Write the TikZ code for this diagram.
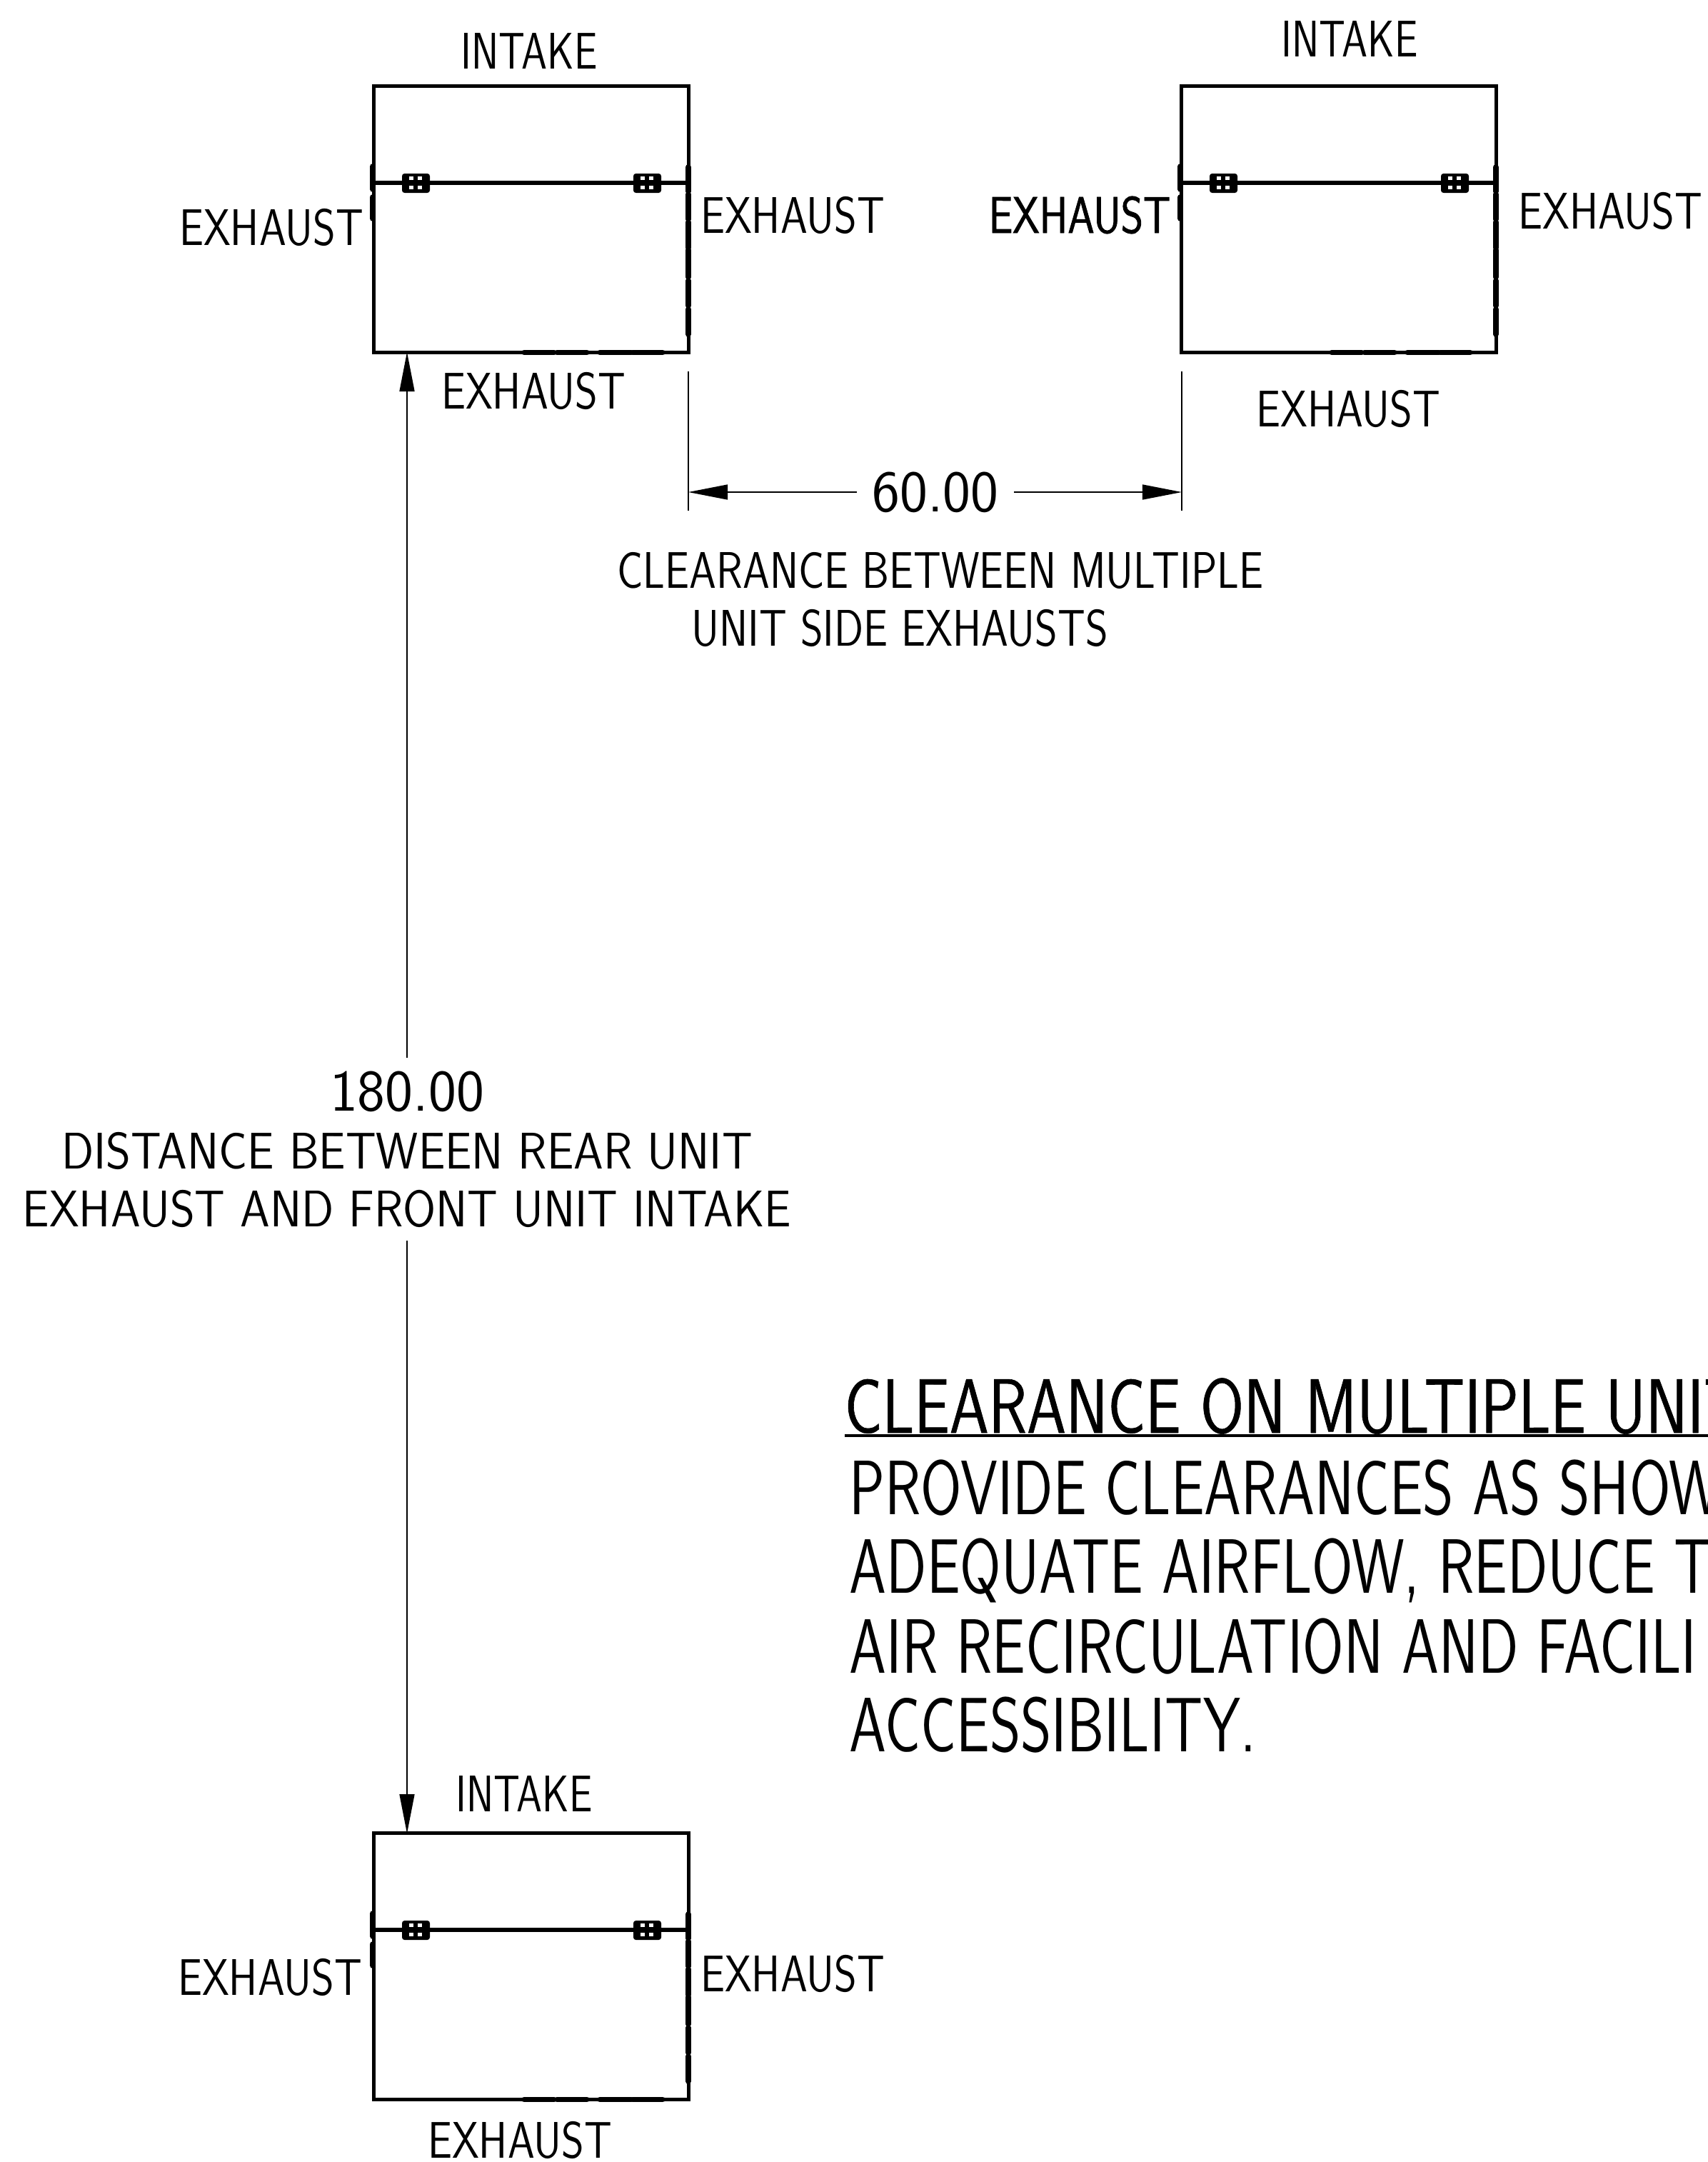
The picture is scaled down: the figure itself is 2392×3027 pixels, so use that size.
\documentclass[tikz,border=0pt]{standalone}
\usepackage{fontspec}
\usepackage{tikz}
\usetikzlibrary{arrows.meta}
\newfontfamily\cadfont[FakeStretch=0.84]{Latin Modern Sans}
\newfontfamily\cadnarrow[FakeStretch=0.8]{Latin Modern Sans}
\newfontfamily\cadheavy[FakeStretch=0.83,FakeBold=1.2]{Latin Modern Sans}
\newfontfamily\cadwide[FakeStretch=0.925]{Latin Modern Sans}
\newfontfamily\cadnum[FakeStretch=1.0]{Latin Modern Sans}
\newfontfamily\cadnote[FakeStretch=0.77]{Latin Modern Sans}
\newfontfamily\cadhead[FakeStretch=0.815,FakeBold=0.6]{Latin Modern Sans}
\begin{document}
\begin{tikzpicture}[x=0.01cm,y=-0.01cm,
  unitbox/.style={draw=black,line width=1.4pt,minimum width=4.4cm,minimum height=3.72cm,inner sep=0pt},
  vent/.style={line width=2.2pt,line cap=round},
  dim/.style={line width=0.45pt,-{Triangle[length=5.5mm,width=2.1mm]}},
  extline/.style={line width=0.45pt},
  lab/.style={inner sep=0pt,font=\cadfont\fontsize{20.5}{20.5}\selectfont},
  labin/.style={lab,font=\cadnarrow\fontsize{20.5}{20.5}\selectfont},
  labheavy/.style={lab,font=\cadheavy\fontsize{20.5}{20.5}\selectfont},
  big/.style={inner sep=0pt,anchor=base west,font=\cadnote\fontsize{30.7}{30.7}\selectfont}]
\useasboundingbox (0,0) rectangle (2392,3027);
\clip (0,0) rectangle (2392,3027);
% the three units
\foreach \n/\ux/\uy in {A/524/121,B/1655/121,C/524/2567}{
  \begin{scope}[shift={(\ux,\uy)}]
    \node[unitbox] (unit\n) at (220,186) {};
    \draw[line width=1.5pt] (0,135) -- (440,135);
    \draw[line width=1.9pt] (0,135) -- (15,135) (425,135) -- (440,135);
    \foreach \ya/\yb in {112/144,155/185}
      \draw[vent] (-2,\ya) -- (-2,\yb);
    \foreach \ya/\yb in {113/147,151/186,190/226,229/267,272/307,312/347}
      \draw[vent] (3,\ya) ++(437,0) -- ++(0,\yb-\ya);
    \foreach \xa/\xb in {210/252,256/298,316/360,362/404}
      \draw[vent] (\xa,372.5) -- (\xb,372.5);
    \foreach \bx in {39,363}{
      \fill[black,rounded corners=1pt] (\bx,122) rectangle ++(39,27);
      \foreach \mx in {13,25}
        \foreach \my in {128,141}
          \fill[white] (\bx+\mx-3,\my-2.5) rectangle ++(6,5);
    }
  \end{scope}
}
% labels
\node[labin] (intakeA) at (741,71) {INTAKE};
\node[lab] (exhaustAl) at (380,318) {EXHAUST};
\node[lab] (exhaustAr) at (1110,301) {EXHAUST};
\node[lab] (exhaustAb) at (747,547) {EXHAUST};
\node[labin] (intakeB) at (1890,54) {INTAKE};
\node[labheavy] (exhaustBl) at (1512,301) {EXHAUST};
\node[lab] (exhaustBr) at (2255,295) {EXHAUST};
\node[lab] (exhaustBb) at (1888,572) {EXHAUST};
\node[labin] (intakeC) at (734,2511) {INTAKE};
\node[lab] (exhaustCl) at (378,2768) {EXHAUST};
\node[lab] (exhaustCr) at (1110,2763) {EXHAUST};
\node[lab] (exhaustCb) at (728,2996) {EXHAUST};
% side clearance
\coordinate (sideA) at (964,689);
\coordinate (sideB) at (1655,689);
\draw[extline] (964,520) -- (964,715);
\draw[extline] (1655,520) -- (1655,715);
\node[lab,font=\cadnum\fontsize{23.5}{23.5}\selectfont,minimum width=2.19cm] (sideval) at (1310,689) {60.00};
\draw[dim] (sideval) -- (sideA);
\draw[dim] (sideval) -- (sideB);
\node[lab] (sidetxta) at (1317,799) {CLEARANCE BETWEEN MULTIPLE};
\node[lab] (sidetxtb) at (1260,879) {UNIT SIDE EXHAUSTS};
% rear clearance
\coordinate (rearA) at (570,493);
\coordinate (rearC) at (570,2567);
\node[lab,align=center,minimum height=2.54cm,font=\cadwide\fontsize{20.5}{23}\selectfont] (rearval) at (570,1609) {{\cadnum\fontsize{23.5}{23}\selectfont 180.00}\\DISTANCE BETWEEN REAR UNIT\\EXHAUST AND FRONT UNIT INTAKE};
\draw[dim] (rearval) -- (rearA);
\draw[dim] (rearval) -- (rearC);
% note
\node[big,font=\cadhead\fontsize{30.7}{30.7}\selectfont] (noteh) at (1182,2006) {CLEARANCE ON MULTIPLE UNIT};
\coordinate (notea) at (1183,2010);
\coordinate (noteb) at (2392,2010);
\draw[line width=0.9pt] (notea) -- (noteb);
\node[big] (notel1) at (1189,2120) {PROVIDE CLEARANCES AS SHOW};
\node[big] (notel2) at (1189,2230) {ADEQUATE AIRFLOW, REDUCE T};
\node[big] (notel3) at (1189,2342) {AIR RECIRCULATION AND FACILI};
\node[big] (notel4) at (1189,2452) {ACCESSIBILITY.};
\end{tikzpicture}
\end{document}
